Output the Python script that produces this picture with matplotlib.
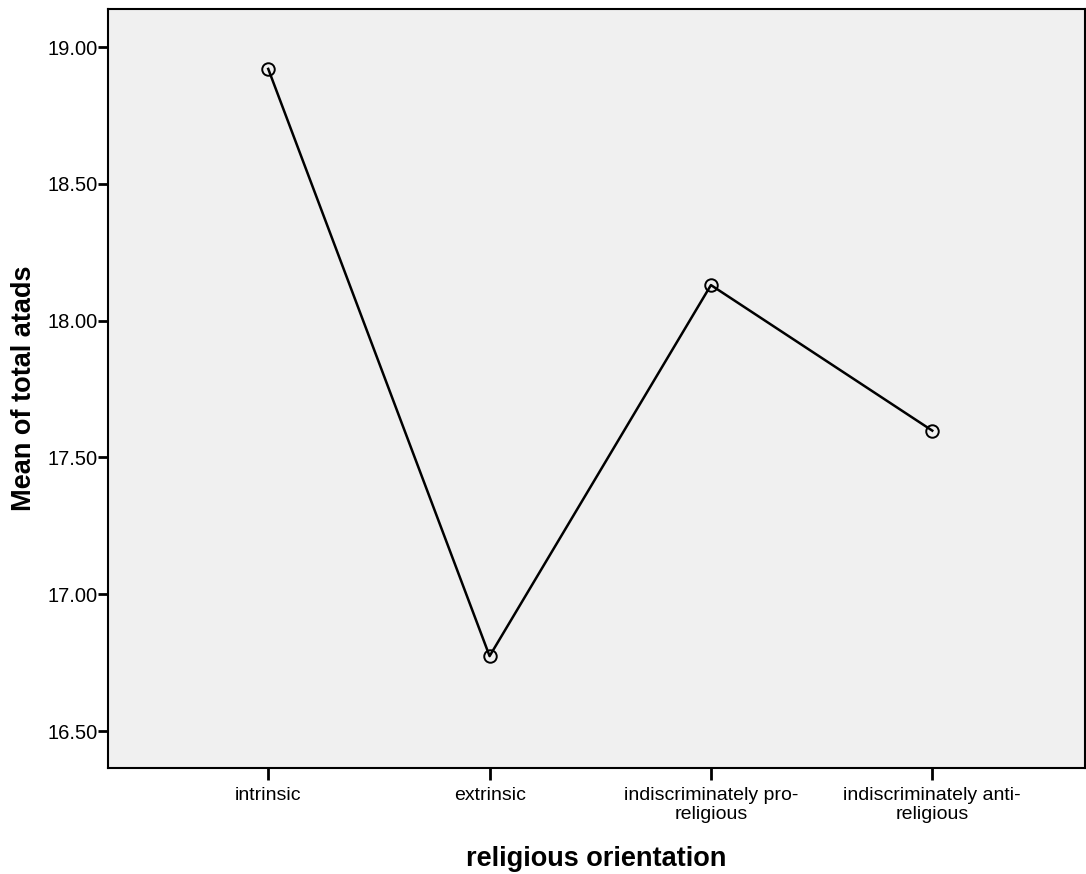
import matplotlib
matplotlib.use("Agg")
import matplotlib.pyplot as plt

categories = ["intrinsic", "extrinsic", "indiscriminately pro-\nreligious", "indiscriminately anti-\nreligious"]
means = [18.92, 16.774, 18.13, 17.598]
yticks = [16.50, 17.00, 17.50, 18.00, 18.50, 19.00]

plt.rcParams['font.family'] = ['Liberation Sans', 'DejaVu Sans']

fig = plt.figure(figsize=(10.86, 8.74), dpi=100)
ax = fig.add_axes([108/1086, 106/874, (1085-108)/1086, (768-9)/874])
ax.set_facecolor('#f0f0f0')

x = list(range(len(categories)))
ax.plot(x, means, color='black', linewidth=1.8, zorder=2)
ax.plot(x, means, linestyle='none', marker='o', markersize=9, markerfacecolor='none',
        markeredgecolor='black', markeredgewidth=1.4, zorder=3)

ax.set_xlim(-0.724, 3.69)
ax.set_ylim(16.365, 19.139)
ax.set_xticks(x)
ax.set_xticklabels(categories, fontsize=14, linespacing=1.1)
ax.set_yticks(yticks)
ax.set_yticklabels([f"{v:.2f}" for v in yticks], fontsize=14.5)
ax.tick_params(axis='y', direction='out', length=7.5, width=2, color='black', pad=0.2)
ax.tick_params(axis='x', direction='out', length=8.5, width=2, color='black', pad=5.5)
for s in ax.spines.values():
    s.set_linewidth(1.5)
    s.set_color('black')

ax.set_xlabel("religious orientation", fontsize=19.5, fontweight='bold', labelpad=16.5)
ax.set_ylabel("Mean of total atads", fontsize=19.5, fontweight='bold', labelpad=7)

fig.savefig("out.png", dpi=100)
